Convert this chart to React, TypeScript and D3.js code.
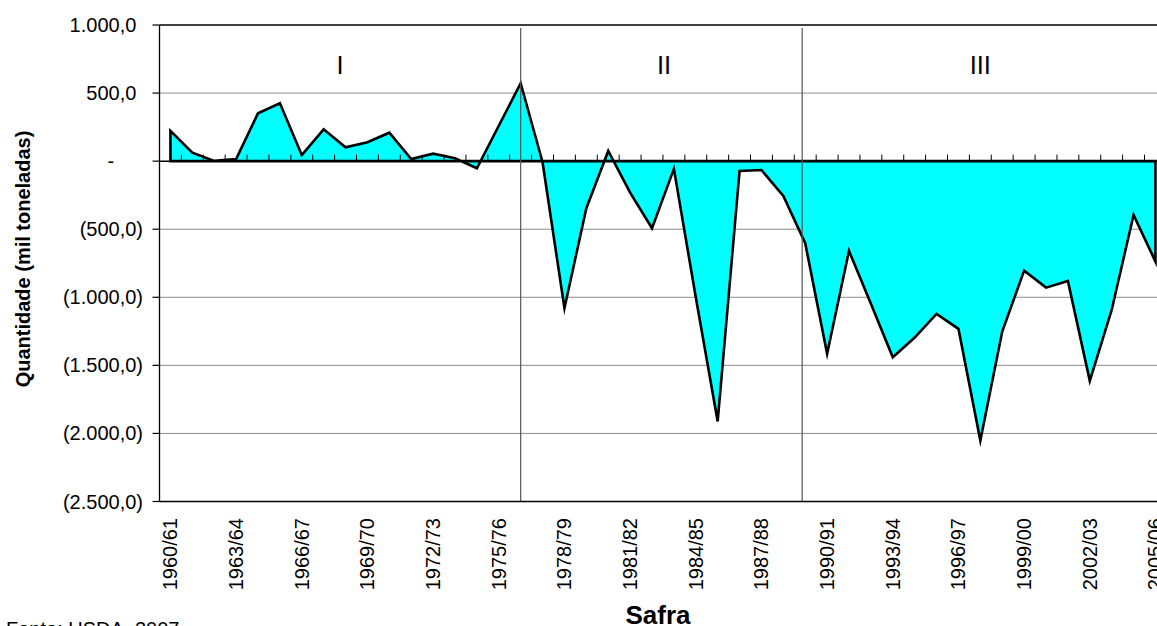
import React from "react";
import * as d3 from "d3";

const categories = [
  "1960/61","1961/62","1962/63","1963/64","1964/65","1965/66","1966/67","1967/68","1968/69","1969/70",
  "1970/71","1971/72","1972/73","1973/74","1974/75","1975/76","1976/77","1977/78","1978/79","1979/80",
  "1980/81","1981/82","1982/83","1983/84","1984/85","1985/86","1986/87","1987/88","1988/89","1989/90",
  "1990/91","1991/92","1992/93","1993/94","1994/95","1995/96","1996/97","1997/98","1998/99","1999/00",
  "2000/01","2001/02","2002/03","2003/04","2004/05","2005/06",
];

const values = [
  222, 62, 2, 15, 352, 425, 45, 234, 102, 139,
  209, 16, 55, 21, -52, 260, 572, -8, -1080, -346,
  75, -231, -493, -57, -1000, -1912, -72, -65, -256, -603,
  -1415, -659, -1048, -1440, -1296, -1122, -1232, -2052, -1252, -804,
  -929, -880, -1614, -1093, -395, -738,
];

const xTickLabels = [
  "1960/61","1963/64","1966/67","1969/70","1972/73","1975/76","1978/79","1981/82",
  "1984/85","1987/88","1990/91","1993/94","1996/97","1999/00","2002/03","2005/06",
];

const yTicks = [1000, 500, 0, -500, -1000, -1500, -2000, -2500];

const periodNames = ["I", "II", "III"];
const periodLabelIndex = [7.75, 22.55, 37.0];
const periodBreakIndex = [16, 28.86];

const W = 1157;
const H = 626;
const FONT = "'Liberation Sans', Arial, Helvetica, sans-serif";

const loc = d3.formatLocale({ decimal: ",", thousands: ".", grouping: [3], currency: ["", ""] });
const fmt = loc.format(",.1f");

export default function App() {
  const left = 159.5;
  const right = 1166.4;
  const top = 25;
  const bottom = 501.5;

  const x = d3.scaleBand<string>().domain(categories).range([left, right]).padding(0);
  const step = x.step();
  const cx = (c: string) => (x(c) as number) + step / 2;
  const xi = (i: number) => left + step / 2 + i * step;
  const y = d3.scaleLinear().domain([-2500, 1000]).range([bottom, top]);

  const data = categories.map((c, i) => ({ c, v: values[i] }));
  const area = d3
    .area<{ c: string; v: number }>()
    .x((d) => cx(d.c))
    .y0(y(0))
    .y1((d) => y(d.v))
    .curve(d3.curveLinear);
  const areaPath = area(data) + "Z";

  const label = (v: number) => {
    if (v === 0) return "-";
    if (v < 0) return "(" + fmt(-v) + ")";
    return fmt(v);
  };
  const labelDx = (v: number) => (v === 0 ? "-1.445em" : v > 0 ? "-0.333em" : "0");

  const boundaries = d3.range(1, categories.length + 1).map((i) => left + i * step);

  return (
    <svg
      width={W}
      height={H}
      style={{ position: "absolute", left: 0, top: 0, background: "#fff" }}
      fontFamily={FONT}
    >
      {/* gridlines */}
      {yTicks
        .filter((t) => t !== 1000 && t !== 0 && t !== -2500)
        .map((t) => (
          <line key={"g" + t} x1={left} x2={W} y1={y(t)} y2={y(t)} stroke="#8c8c8c" strokeWidth={1} />
        ))}

      {/* area */}
      <path d={areaPath} fill="#00ffff" stroke="#000" strokeWidth={2.6} strokeLinejoin="miter" strokeMiterlimit={6} />

      {/* zero category axis */}
      <line x1={left} x2={W} y1={y(0)} y2={y(0)} stroke="#000" strokeWidth={1.5} />
      {boundaries.map((bx, i) => (
        <line key={"t" + i} x1={bx} x2={bx} y1={y(0)} y2={y(0) - 6.5} stroke="#000" strokeWidth={1} />
      ))}

      {/* period dividers */}
      {periodBreakIndex.map((b, i) => (
        <line key={"d" + i} x1={xi(b)} x2={xi(b)} y1={top + 3} y2={bottom} stroke="#555" strokeWidth={1.2} />
      ))}

      {/* plot border */}
      <line x1={left} x2={W} y1={top} y2={top} stroke="#000" strokeWidth={1.3} />
      <line x1={left} x2={W} y1={bottom} y2={bottom} stroke="#000" strokeWidth={1.3} />
      <line x1={left} x2={left} y1={top} y2={bottom} stroke="#000" strokeWidth={1.3} />

      {/* y ticks and labels */}
      {yTicks.map((t) => (
        <g key={"y" + t}>
          <line x1={left - 7} x2={left} y1={y(t)} y2={y(t)} stroke="#000" strokeWidth={1.2} />
          <text x={143} y={y(t)} dx={labelDx(t)} dy="0.35em" textAnchor="end" fontSize={20} fill="#000">
            {label(t)}
          </text>
        </g>
      ))}

      {/* x labels */}
      {xTickLabels.map((c) => (
        <text
          key={"x" + c}
          transform={`translate(${cx(c)},${518}) rotate(-90)`}
          textAnchor="end"
          dy="0.35em"
          fontSize={20}
          fill="#000"
        >
          {c}
        </text>
      ))}

      {/* period labels */}
      {periodNames.map((p, i) => (
        <text key={"p" + p} x={xi(periodLabelIndex[i])} y={73.5} textAnchor="middle" fontSize={25.5} fill="#000">
          {p}
        </text>
      ))}

      {/* axis titles */}
      <text
        transform={`translate(${30},${259}) rotate(-90)`}
        textAnchor="middle"
        fontSize={20}
        fontWeight="bold"
        fill="#000"
      >
        Quantidade (mil toneladas)
      </text>
      <text x={658} y={624} textAnchor="middle" fontSize={26} fontWeight="bold" fill="#000">
        Safra
      </text>
      <text x={6} y={636} fontSize={20} fill="#000">
        Fonte: USDA, 2007
      </text>
    </svg>
  );
}
